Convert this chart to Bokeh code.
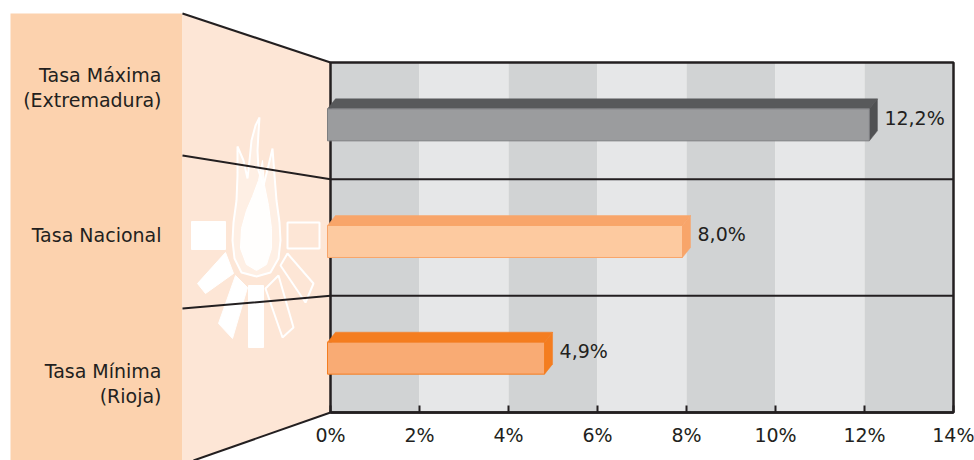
from bokeh.plotting import figure
from bokeh.models import Range1d, LinearAxis, FixedTicker
from bokeh.core.properties import value
from bokeh.embed import file_html
from bokeh.resources import INLINE

# ---------------- data ----------------
categories = ["Tasa Mínima\n(Rioja)", "Tasa Nacional", "Tasa Máxima\n(Extremadura)"]
rates = [4.9, 8.0, 12.2]
rate_labels = ["4,9%", "8,0%", "12,2%"]
ticks = [0, 2, 4, 6, 8, 10, 12, 14]
tick_labels = ["0%", "2%", "4%", "6%", "8%", "10%", "12%", "14%"]

# ---------------- styles ----------------
front_colors = ["#f9ab74", "#fdcaa0", "#9b9c9e"]
edge_colors = ["#f47d20", "#f8a56a", "#7d7e80"]
top_colors = ["#f47d20", "#f8a56a", "#58595b"]
side_colors = ["#f47d20", "#f8a56a", "#505153"]
TEXT = "#231f20"
DARK_BAND = "#d1d3d4"
LIGHT_BAND = "#e6e7e8"
PANEL = "#fcd2ae"
PANEL_LIGHT = "#fde6d6"
FONT = "DejaVu Sans"
FSIZE = "19px"

# layout: reference pixel geometry -> data units
PX_X = 44.5      # pixels per 1 %
PX_Y = 116.667   # pixels per category band
X0, Y0 = 330, 412
OFF = 0          # page offset of the figure


def dxr(rx):
    return (rx - X0) / PX_X


def dyr(ry):
    return (Y0 - ry) / PX_Y


W, H = 974, 460
p = figure(width=W, height=H, output_backend="svg", toolbar_location=None,
           x_axis_type=None, y_axis_type=None, min_border=0,
           x_range=Range1d(dxr(OFF), dxr(OFF + W)), y_range=Range1d(dyr(OFF + H), dyr(OFF)),
           background_fill_color="white", border_fill_color="white",
           outline_line_color=None)
p.grid.visible = False

n = len(categories)
xmax = ticks[-1]

# ---------------- left decorative panel ----------------
p.quad(left=dxr(10), right=dxr(182), bottom=dyr(470), top=dyr(13),
       fill_color=PANEL, line_color=None)
p.patch([dxr(182), 0, 0, dxr(193), dxr(182)],
        [dyr(13), n, 0, dyr(460), dyr(470)],
        fill_color=PANEL_LIGHT, line_color=None)


def poly(pts, **kw):
    p.patch([dxr(a) for a, b in pts], [dyr(b) for a, b in pts], **kw)


filled = dict(fill_color="white", line_color="white", line_width=1)
outlined = dict(fill_color=None, line_color="white", line_width=2)
poly([(191, 221), (225, 221), (225, 249), (191, 249)], **filled)
poly([(287, 222), (319, 222), (319, 248), (287, 248)], **outlined)
poly([(248, 285), (263, 285), (263, 347), (248, 347)], **filled)
poly([(197, 283), (225, 252), (233, 273), (205, 293)], **filled)
poly([(235, 275), (247, 287), (232, 338), (218, 323)], **filled)
poly([(287, 253), (313, 283), (305, 302), (280, 265)], **outlined)
poly([(278, 275), (293, 327), (282, 337), (265, 288)], **outlined)
flame = [(256, 276), (241, 272), (234, 258), (232, 240), (233, 222), (236, 200),
         (237, 175), (237, 146), (243, 160), (247, 178), (249, 160), (251, 140),
         (255, 125), (259, 117), (258, 132), (257, 150), (258, 170), (263, 185),
         (268, 165), (272, 148), (274, 175), (276, 200), (279, 222), (280, 240),
         (278, 258), (270, 272)]
poly(flame, fill_color="white", fill_alpha=0.35, line_color="white", line_width=2)
inner = [(256, 270), (246, 264), (240, 248), (241, 228), (246, 210), (252, 196),
         (258, 180), (262, 160), (264, 185), (268, 205), (271, 228), (271, 248),
         (266, 264)]
poly(inner, fill_color="white", fill_alpha=0.9, line_color="white", line_width=1)

# category labels
label_offsets = [-29, 2.5, 33]
p.text(x=[dxr(161)] * n, y=[i + 0.5 + label_offsets[i] / PX_Y for i in range(n)],
       text=categories, text_align="right", text_baseline="middle",
       text_font=value(FONT), text_font_size=FSIZE, text_color=TEXT,
       text_line_height=1.15)

# ---------------- plot area ----------------
lefts = ticks[:-1]
rights = ticks[1:]
band_colors = [DARK_BAND if k % 2 == 0 else LIGHT_BAND for k in range(len(lefts))]
p.quad(left=lefts, right=rights, bottom=0, top=n, fill_color=band_colors, line_color=None)

# separators and connector lines
conn = [(182, 13), (182, 155), (182, 308), (193, 460)]
edges = [n, 2, 1, 0]
for (cx, cy), yy in zip(conn, edges):
    if yy in (0, n):
        p.line([dxr(cx), 0], [dyr(cy), yy], line_color=TEXT, line_width=2)
    else:
        p.line([dxr(cx), 0, xmax], [dyr(cy), yy, yy], line_color=TEXT, line_width=2)

# border
p.quad(left=0, right=xmax, bottom=0, top=n, fill_color=None,
       line_color=TEXT, line_width=2.5)

# 3D bars
x0 = -3 / PX_X
ddx = 8 / PX_X
ddy = 10 / PX_Y
fl, fr, fb, ft = [], [], [], []
txs, tys, sxs, sys_ = [], [], [], []
for i, v in enumerate(rates):
    c = i + 0.5
    xe = v - 4 / PX_X
    b = c - 20 / PX_Y
    t = c + 12 / PX_Y
    fl.append(x0); fr.append(xe); fb.append(b); ft.append(t)
    txs.append([x0, xe, xe + ddx, x0 + ddx])
    tys.append([t, t, t + ddy, t + ddy])
    sxs.append([xe, xe + ddx, xe + ddx, xe])
    sys_.append([b, b + ddy, t + ddy, t])

p.patches(txs, tys, fill_color=top_colors, line_color=top_colors, line_width=0.5)
p.patches(sxs, sys_, fill_color=side_colors, line_color=side_colors, line_width=0.5)
p.quad(left=fl, right=fr, bottom=fb, top=ft, fill_color=front_colors,
       line_color=edge_colors, line_width=1)

# value labels
p.text(x=[v + 11 / PX_X for v in rates], y=[i + 0.5 + 3 / PX_Y for i in range(n)],
       text=rate_labels, text_align="left", text_baseline="middle",
       text_font=value(FONT), text_font_size=FSIZE, text_color=TEXT)

# x axis
xaxis = LinearAxis(fixed_location=0, bounds=(0, xmax),
                   ticker=FixedTicker(ticks=ticks),
                   major_label_overrides={t: l for t, l in zip(ticks, tick_labels)},
                   major_tick_in=7, major_tick_out=0,
                   minor_tick_line_color=None,
                   axis_line_color=TEXT, axis_line_width=2.5,
                   major_tick_line_color=TEXT, major_tick_line_width=2,
                   major_label_standoff=11,
                   major_label_text_font=FONT,
                   major_label_text_font_size=FSIZE,
                   major_label_text_color=TEXT)
p.add_layout(xaxis, "below")

open("out.html", "w").write(file_html(p, INLINE))
